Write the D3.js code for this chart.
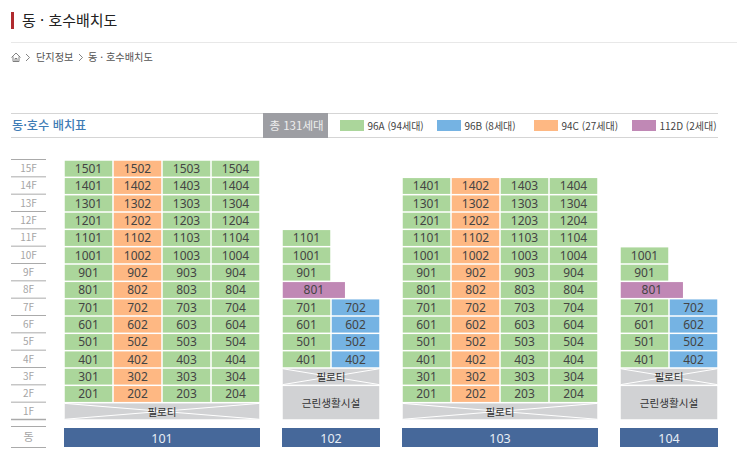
<!DOCTYPE html>
<html lang="ko">
<head>
<meta charset="UTF-8">
<title>동 · 호수배치도</title>
<script src="https://d3js.org/d3.v7.min.js"></script>
<style>
  html, body { margin: 0; padding: 0; background: #fff; overflow: hidden; }
  svg { display: block; }
  text { font-family: "Noto Sans CJK KR", "Noto Sans", sans-serif; }
  .num { font-family: "Noto Sans", sans-serif; }
</style>
</head>
<body>
<svg id="chart" width="737" height="462"></svg>
<script>
// 층 / 동
const floors = ["15F","14F","13F","12F","11F","10F","9F","8F","7F","6F","5F","4F","3F","2F","1F"];
const dongs = ["101","102","103","104"];
const dongCols = [4,2,4,2];

// 타입 범례
const typeKeys = ["A","B","C","D"];
const typeLabels = ["96A (94세대)","96B (8세대)","94C (27세대)","112D (2세대)"];
const typeColors = ["#abd69b","#75b3e3","#feb883","#c088b5"];

// 세대: [호수, 타입]
const units101 = [
  ["1501","A"],["1502","C"],["1503","A"],["1504","A"],
  ["1401","A"],["1402","C"],["1403","A"],["1404","A"],
  ["1301","A"],["1302","C"],["1303","A"],["1304","A"],
  ["1201","A"],["1202","C"],["1203","A"],["1204","A"],
  ["1101","A"],["1102","C"],["1103","A"],["1104","A"],
  ["1001","A"],["1002","C"],["1003","A"],["1004","A"],
  ["901","A"],["902","C"],["903","A"],["904","A"],
  ["801","A"],["802","C"],["803","A"],["804","A"],
  ["701","A"],["702","C"],["703","A"],["704","A"],
  ["601","A"],["602","C"],["603","A"],["604","A"],
  ["501","A"],["502","C"],["503","A"],["504","A"],
  ["401","A"],["402","C"],["403","A"],["404","A"],
  ["301","A"],["302","C"],["303","A"],["304","A"],
  ["201","A"],["202","C"],["203","A"],["204","A"]
];
const units102 = [
  ["1101","A"],["1001","A"],["901","A"],["801","D"],
  ["701","A"],["702","B"],["601","A"],["602","B"],
  ["501","A"],["502","B"],["401","A"],["402","B"]
];
const units103 = [
  ["1401","A"],["1402","C"],["1403","A"],["1404","A"],
  ["1301","A"],["1302","C"],["1303","A"],["1304","A"],
  ["1201","A"],["1202","C"],["1203","A"],["1204","A"],
  ["1101","A"],["1102","C"],["1103","A"],["1104","A"],
  ["1001","A"],["1002","C"],["1003","A"],["1004","A"],
  ["901","A"],["902","C"],["903","A"],["904","A"],
  ["801","A"],["802","C"],["803","A"],["804","A"],
  ["701","A"],["702","C"],["703","A"],["704","A"],
  ["601","A"],["602","C"],["603","A"],["604","A"],
  ["501","A"],["502","C"],["503","A"],["504","A"],
  ["401","A"],["402","C"],["403","A"],["404","A"],
  ["301","A"],["302","C"],["303","A"],["304","A"],
  ["201","A"],["202","C"],["203","A"],["204","A"]
];
const units104 = [
  ["1001","A"],["901","A"],["801","D"],
  ["701","A"],["702","B"],["601","A"],["602","B"],
  ["501","A"],["502","B"],["401","A"],["402","B"]
];
const unitLists = [units101, units102, units103, units104];

// 비주거 층: [동, 이름, 위층, 아래층, 엑스표시]
const commons = [
  ["101","필로티","1F","1F",true],
  ["102","필로티","3F","3F",true],
  ["102","근린생활시설","2F","1F",false],
  ["103","필로티","1F","1F",true],
  ["104","필로티","3F","3F",true],
  ["104","근린생활시설","2F","1F",false]
];

const svg = d3.select("#chart");
const gap = 0.75; // 셀 사이 흰 간격 절반
const colUnit = 49, dongGap = 22;

// 페이지 제목
svg.append("rect").attr("x",11).attr("y",12).attr("width",3).attr("height",17).attr("fill","#b02a2e");
svg.append("text").attr("x",22).attr("y",25.5).attr("font-size",15).attr("fill","#222").text("동 · 호수배치도");
svg.append("line").attr("x1",11).attr("x2",737).attr("y1",42.5).attr("y2",42.5).attr("stroke","#e8e8e8");

// 홈 아이콘 + 경로
const home = svg.append("g").attr("fill","none").attr("stroke","#666").attr("stroke-width",0.8);
home.append("path").attr("d","M11.5 57.5 L16 53 L20.5 57.5 M13 56.5 V61.5 H19 V56.5 M15 61.5 V58.5 H17 V61.5");
const crumb = svg.append("g").attr("font-size",10.2).attr("fill","#555");
crumb.append("text").attr("x",36).attr("y",61).text("단지정보");
crumb.append("text").attr("x",88).attr("y",61).text("동 · 호수배치도");
svg.append("path").attr("d","M26 54 L29.5 57.5 L26 61 M79 54 L82.5 57.5 L79 61").attr("fill","none").attr("stroke","#666").attr("stroke-width",0.8);

// 표 헤더
svg.append("line").attr("x1",11).attr("x2",718).attr("y1",113.5).attr("y2",113.5).attr("stroke","#d5d5d5").attr("stroke-width",1);
svg.append("line").attr("x1",11).attr("x2",718).attr("y1",137.5).attr("y2",137.5).attr("stroke","#d5d5d5").attr("stroke-width",1);
svg.append("text").attr("x",12).attr("y",130).attr("font-size",12.2).attr("font-weight",500).attr("fill","#3f7cb5").text("동·호수 배치표");
svg.append("rect").attr("x",263).attr("y",113).attr("width",65).attr("height",25).attr("fill","#9d9ea3");
svg.append("text").attr("x",296.5).attr("y",130).attr("text-anchor","middle").attr("font-size",11.5).attr("fill","#eee").text("총 131세대");

// 범례
const legendX = d3.scaleOrdinal().domain(typeKeys).range([340,437,534,632]);
const legend = svg.append("g").selectAll("g").data(typeKeys).join("g")
  .attr("transform", d => `translate(${legendX(d)},120)`);
legend.append("rect").attr("width",24).attr("height",11)
  .attr("fill", (d,i) => typeColors[i]);
legend.append("text").attr("x",27.5).attr("y",10).attr("font-size",10).attr("fill","#444")
  .text((d,i) => typeLabels[i]);

// 스케일
const y = d3.scaleBand().domain(floors).range([160,420]);
const totalUnits = d3.sum(dongCols)*colUnit + (dongs.length-1)*dongGap;
const x = d3.scaleLinear().domain([0,totalUnits]).range([64,718]);
const typeColor = d3.scaleOrdinal().domain(typeKeys).range(typeColors);

// 동별 시작 위치
const dongStart = {};
dongs.reduce((acc,d,i) => { dongStart[d] = acc; return acc + dongCols[i]*colUnit + dongGap; }, 0);
const dongWidth = d => dongCols[dongs.indexOf(d)]*colUnit;

// 층 라벨
const floorAxis = d3.axisLeft(y).tickSize(0).tickPadding(0);
const axisG = svg.append("g").attr("transform","translate(28.5,0)").call(floorAxis);
axisG.select(".domain").remove();
axisG.selectAll("text").attr("text-anchor","middle").attr("font-size",10)
  .attr("fill","#a5a5a5").attr("font-family",'"Noto Sans", sans-serif');
svg.append("g").selectAll("line").data(floors.concat(["end"])).join("line")
  .attr("x1",11).attr("x2",46)
  .attr("y1", d => (d==="end" ? y.range()[1] : y(d)) - 0.5)
  .attr("y2", d => (d==="end" ? y.range()[1] : y(d)) - 0.5)
  .attr("stroke","#aaa").attr("stroke-width", d => d==="end" ? 1.4 : 1);

// 세대 셀
dongs.forEach((dong,i) => {
  const rows = unitLists[i].map(u => ({
    no: u[0],
    type: u[1],
    floor: Math.floor(+u[0]/100) + "F",
    col: (+u[0] % 100) - 1
  }));
  const g = svg.append("g").selectAll("g").data(rows).join("g");
  // 112D는 한 칸 반 정도 넓다
  const w = d => (d.type === "D" ? colUnit*1.3 : colUnit);
  g.append("rect")
    .attr("x", d => x(dongStart[dong] + d.col*colUnit) + gap)
    .attr("y", d => y(d.floor) + gap)
    .attr("width", d => x(w(d)) - x(0) - gap*2)
    .attr("height", y.bandwidth() - gap*2)
    .attr("fill", d => typeColor(d.type));
  g.append("text")
    .attr("class","num")
    .attr("x", d => x(dongStart[dong] + d.col*colUnit) + (x(w(d))-x(0))/2)
    .attr("y", d => y(d.floor) + y.bandwidth()/2 + 4.4)
    .attr("text-anchor","middle").attr("font-size",12).attr("fill","#444")
    .text(d => d.no);
});

// 필로티 / 근린생활시설
const commonG = svg.append("g").selectAll("g").data(commons).join("g");
const cx0 = d => x(dongStart[d[0]]) + gap;
const cx1 = d => x(dongStart[d[0]] + dongWidth(d[0])) - gap;
const cy0 = d => y(d[2]) + gap;
const cy1 = d => y(d[3]) + y.bandwidth() - gap;
commonG.append("rect")
  .attr("x",cx0).attr("y",cy0)
  .attr("width", d => cx1(d)-cx0(d)).attr("height", d => cy1(d)-cy0(d))
  .attr("fill","#d1d2d4");
commonG.filter(d => d[4]).append("path")
  .attr("d", d => `M${cx0(d)} ${cy0(d)} L${cx1(d)} ${cy1(d)} M${cx0(d)} ${cy1(d)} L${cx1(d)} ${cy0(d)}`)
  .attr("stroke","#fff").attr("stroke-width",1).attr("fill","none");
commonG.append("text")
  .attr("x", d => (cx0(d)+cx1(d))/2).attr("y", d => (cy0(d)+cy1(d))/2 + 4.2)
  .attr("text-anchor","middle").attr("font-size",10.6).attr("fill","#333")
  .text(d => d[1]);

// 동 행
svg.append("g").selectAll("line").data([426.5,447.5]).join("line")
  .attr("x1",11).attr("x2",46).attr("y1",d=>d).attr("y2",d=>d).attr("stroke","#aaa").attr("stroke-width",1);
svg.append("text").attr("x",28.5).attr("y",441).attr("text-anchor","middle").attr("font-size",11).attr("fill","#a5a5a5").text("동");
const dongG = svg.append("g").selectAll("g").data(dongs).join("g");
dongG.append("rect")
  .attr("x", d => x(dongStart[d]))
  .attr("y",428).attr("height",19)
  .attr("width", d => x(dongWidth(d)) - x(0))
  .attr("fill","#46689a");
dongG.append("text")
  .attr("class","num")
  .attr("x", d => x(dongStart[d]) + (x(dongWidth(d))-x(0))/2)
  .attr("y",442.5).attr("text-anchor","middle").attr("font-size",12.5).attr("fill","#e8eef5")
  .text(d => d);
</script>
</body>
</html>
